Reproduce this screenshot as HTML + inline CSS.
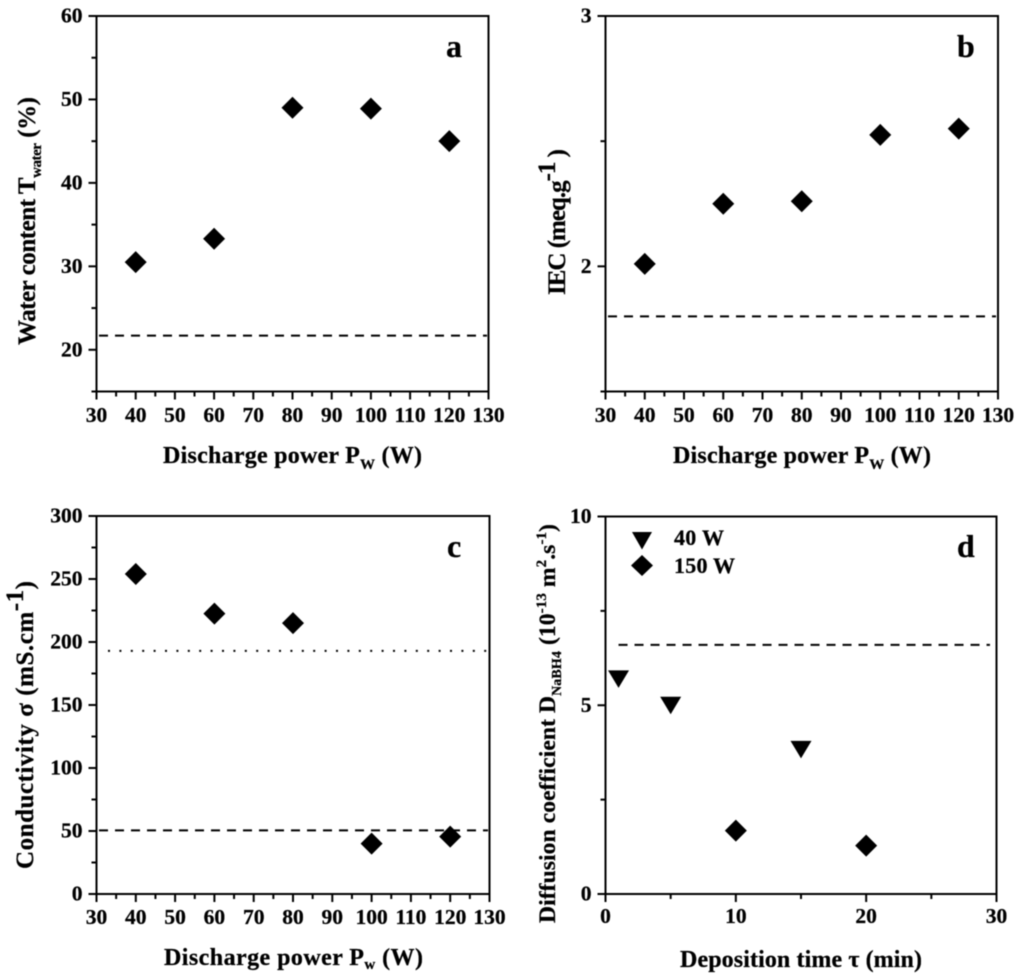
<!DOCTYPE html>
<html lang="en">
<head>
<meta charset="utf-8">
<title>Membrane properties versus discharge power and deposition time</title>
<style>
html,body{margin:0;padding:0;background:#fff;}
svg{display:block;filter:blur(0.45px);}
text{font-family:"Liberation Serif",serif;font-weight:bold;fill:#000;stroke:#000;stroke-width:0.25px;}
</style>
</head>
<body>
<svg id="chart" width="1024" height="978" viewBox="0 0 1024 978" xmlns="http://www.w3.org/2000/svg">
  <rect width="1024" height="978" fill="#fff"/>

  <text x="163" y="463" font-size="24" textLength="259">Discharge power P<tspan font-size="15" dy="6">W</tspan><tspan dy="-6"> (W)</tspan></text>
  <text x="673" y="463" font-size="24" textLength="258">Discharge power P<tspan font-size="15" dy="6">W</tspan><tspan dy="-6"> (W)</tspan></text>
  <text x="164" y="965" font-size="24" textLength="259">Discharge power P<tspan font-size="15" dy="4">w</tspan><tspan dy="-4"> (W)</tspan></text>
  <text x="680" y="967" font-size="24" textLength="242">Deposition time τ (min)</text>

  <text transform="translate(35,345) rotate(-90)" font-size="25" textLength="248">Water content T<tspan font-size="15" dy="6">water</tspan><tspan dy="-6"> (%)</tspan></text>
  <text transform="translate(565,295) rotate(-90)" font-size="25" textLength="146">IEC (meq.g<tspan font-size="25" dy="-10">-1</tspan><tspan dy="10"> )</tspan></text>
  <text transform="translate(33,869) rotate(-90)" font-size="25" textLength="288">Conductivity σ (mS.cm<tspan font-size="25" dy="-10">-1</tspan><tspan dy="10">)</tspan></text>
  <text transform="translate(555,923) rotate(-90)" font-size="23.5" textLength="399">Diffusion coefficient D<tspan font-size="14" dy="6">NaBH4</tspan><tspan dy="-6"> (10</tspan><tspan font-size="15" dy="-9">-13</tspan><tspan dy="9"> m</tspan><tspan font-size="15" dy="-9">2</tspan><tspan dy="9">.s</tspan><tspan font-size="15" dy="-9">-1</tspan><tspan dy="9">)</tspan></text>

  <text x="446" y="57" font-size="32">a</text>
  <text x="957" y="57" font-size="32">b</text>
  <text x="447" y="557" font-size="32">c</text>
  <text x="957" y="557" font-size="32">d</text>

  <g>
    <polygon points="632,532 652,532 642,549.5"/>
    <text x="674" y="545" font-size="22" textLength="50">40 W</text>
    <polygon points="642,555 653,565.5 642,576 631,565.5"/>
    <text x="674" y="573" font-size="22" textLength="61">150 W</text>
  </g>
</svg>
<script>
// Shared axis tick values
const powerTicks = [30, 40, 50, 60, 70, 80, 90, 100, 110, 120, 130];
const powerMinorTicks = [35, 45, 55, 65, 75, 85, 95, 105, 115, 125];

// Panel a: water content
const aPower = [40, 60, 80, 100, 120];
const aWater = [30.5, 33.3, 49, 48.9, 45];
const aDashed = [21.7];
const aYTicks = [20, 30, 40, 50, 60];
const aYMinor = [15, 25, 35, 45, 55];

// Panel b: IEC
const bPower = [40, 60, 80, 100, 120];
const bIec = [2.01, 2.25, 2.26, 2.525, 2.55];
const bDashed = [1.8];
const bYTicks = [2, 3];
const bYMinor = [1.5, 2.5];

// Panel c: conductivity
const cPower = [40, 60, 80, 100, 120];
const cConductivity = [254, 222.5, 215, 40, 45.5];
const cDashed = [50.5];
const cDotted = [193];
const cYTicks = [0, 50, 100, 150, 200, 250, 300];
const cYMinor = [25, 75, 125, 175, 225, 275];

// Panel d: diffusion coefficient
const dTime40 = [1, 5, 15];
const dDiff40 = [5.7, 5.0, 3.83];
const dTime150 = [10, 20];
const dDiff150 = [1.68, 1.28];
const dDashed = [6.6];
const dDashedRange = [1, 29.5];
const dXTicks = [0, 10, 20, 30];
const dXMinor = [5, 15, 25];
const dYTicks = [0, 5, 10];
const dYMinor = [2.5, 7.5];

const svg = document.getElementById('chart');
const NS = 'http://www.w3.org/2000/svg';

function make(tag, attrs) {
  const el = document.createElementNS(NS, tag);
  for (const k in attrs) el.setAttribute(k, attrs[k]);
  svg.appendChild(el);
  return el;
}

function scale(d0, d1, r0, r1) {
  return v => r0 + (v - d0) / (d1 - d0) * (r1 - r0);
}

function drawFrame(panel, box) {
  const el = make('rect', {x: box.left, y: box.top, width: box.right - box.left, height: box.bottom - box.top, fill: 'none', stroke: '#000', 'stroke-width': 2});
  
  
}

function drawXAxis(panel, box, x, majors, minors) {
  majors.forEach(v => {
    const t = make('line', {x1: x(v), x2: x(v), y1: box.bottom, y2: box.bottom + 8, stroke: '#000', 'stroke-width': 2});
    
    
    const l = make('text', {x: x(v), y: box.xLabelY, 'text-anchor': 'middle', 'font-size': 21.5});
    l.textContent = v;
    
    
  });
  minors.forEach(v => {
    const t = make('line', {x1: x(v), x2: x(v), y1: box.bottom, y2: box.bottom + 5, stroke: '#000', 'stroke-width': 2});
    
    
  });
}

function drawYAxis(panel, box, y, majors, minors) {
  majors.forEach(v => {
    const t = make('line', {x1: box.left - 8, x2: box.left, y1: y(v), y2: y(v), stroke: '#000', 'stroke-width': 2});
    
    
    const l = make('text', {x: box.left - 14, y: y(v) + 6.5, 'text-anchor': 'end', 'font-size': 21.5});
    l.textContent = v;
    
    
  });
  minors.forEach(v => {
    const t = make('line', {x1: box.left - 5, x2: box.left, y1: y(v), y2: y(v), stroke: '#000', 'stroke-width': 2});
    
    
  });
}

function drawRefLine(panel, kind, x1, x2, yPos) {
  const dash = kind === 'dotted' ? '2 9.4' : '9 7';
  const el = make('line', {x1: x1, x2: x2, y1: yPos, y2: yPos, stroke: '#000', 'stroke-width': 2, 'stroke-dasharray': dash});
  
  
}

function drawDiamonds(panel, xs, ys, x, y) {
  xs.forEach((v, i) => {
    const cx = x(v), cy = y(ys[i]), r = 11;
    const p = make('polygon', {points: [cx, cy - r, cx + r, cy, cx, cy + r, cx - r, cy].join(' '), fill: '#000'});
    
    
  });
}

function drawTriangles(panel, xs, ys, x, y) {
  xs.forEach((v, i) => {
    const cx = x(v), cy = y(ys[i]);
    const p = make('polygon', {points: [cx - 10.5, cy - 8.5, cx + 10.5, cy - 8.5, cx, cy + 9].join(' '), fill: '#000'});
    
    
  });
}

// Panel a
const boxA = {left: 96.5, right: 488.5, top: 16, bottom: 391.5, xLabelY: 422};
const xA = scale(30, 130, boxA.left, boxA.right);
const yA = scale(15, 60, boxA.bottom, boxA.top);
drawRefLine('a', 'dashed', 99, 487, yA(aDashed[0]));
drawFrame('a', boxA);
drawXAxis('a', boxA, xA, powerTicks, powerMinorTicks);
drawYAxis('a', boxA, yA, aYTicks, aYMinor);
drawDiamonds('a', aPower, aWater, xA, yA);

// Panel b
const boxB = {left: 605.5, right: 998, top: 16, bottom: 391.5, xLabelY: 422};
const xB = scale(30, 130, boxB.left, boxB.right);
const yB = scale(1.5, 3, boxB.bottom, boxB.top);
drawRefLine('b', 'dashed', 608, 996, yB(bDashed[0]));
drawFrame('b', boxB);
drawXAxis('b', boxB, xB, powerTicks, powerMinorTicks);
drawYAxis('b', boxB, yB, bYTicks, bYMinor);
drawDiamonds('b', bPower, bIec, xB, yB);

// Panel c
const boxC = {left: 96.5, right: 489.5, top: 516, bottom: 894, xLabelY: 924};
const xC = scale(30, 130, boxC.left, boxC.right);
const yC = scale(0, 300, boxC.bottom, boxC.top);
drawRefLine('c', 'dashed', 99, 488, yC(cDashed[0]));
drawRefLine('c', 'dotted', 108, 488, yC(cDotted[0]));
drawFrame('c', boxC);
drawXAxis('c', boxC, xC, powerTicks, powerMinorTicks);
drawYAxis('c', boxC, yC, cYTicks, cYMinor);
drawDiamonds('c', cPower, cConductivity, xC, yC);

// The reference crops the final digit of panel c's last x tick label
const cropMask = make('rect', {x: 505, y: 900, width: 30, height: 34, fill: '#fff'});



// Panel d
const boxD = {left: 605.5, right: 996.5, top: 516.5, bottom: 894, xLabelY: 923};
const xD = scale(0, 30, boxD.left, boxD.right);
const yD = scale(0, 10, boxD.bottom, boxD.top);
drawRefLine('d', 'dashed', xD(dDashedRange[0]), xD(dDashedRange[1]), yD(dDashed[0]));
drawFrame('d', boxD);
drawXAxis('d', boxD, xD, dXTicks, dXMinor);
drawYAxis('d', boxD, yD, dYTicks, dYMinor);
drawTriangles('d', dTime40, dDiff40, xD, yD);
drawDiamonds('d', dTime150, dDiff150, xD, yD);
</script>
</body>
</html>
